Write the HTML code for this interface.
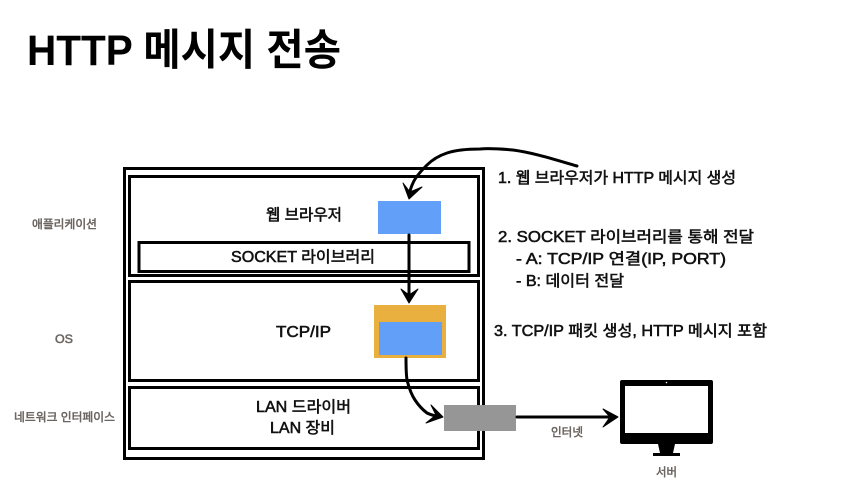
<!DOCTYPE html>
<html lang="ko"><head><meta charset="utf-8"><style>
html,body{margin:0;padding:0;background:#fff}
svg{display:block}
text{font-family:"Liberation Sans","Noto Sans CJK KR",sans-serif;fill:#111}
.m{font-size:15.500px;font-weight:400;stroke:#111;stroke-width:.55px}
.g{font-size:11.500px;fill:#6b6560;font-weight:400;stroke:#6b6560;stroke-width:.5px}
.b{fill:none;stroke:#000;stroke-width:3}
.a{fill:none;stroke:#000;stroke-width:3;stroke-linecap:round;stroke-linejoin:round}
.h{fill:#000;stroke:#000;stroke-width:1;stroke-linejoin:round}
</style></head><body>
<svg width="861" height="497" viewBox="0 0 861 497" xmlns="http://www.w3.org/2000/svg">
<rect width="861" height="497" fill="#fff"/>
<text x="27" y="65" style="font-size:43px;font-weight:700;fill:#000" textLength="314" lengthAdjust="spacingAndGlyphs">HTTP 메시지 전송</text>

<rect class="b" x="124.500" y="168.500" width="359" height="290"/>
<rect class="b" x="129.500" y="176.500" width="349" height="99"/>
<rect class="b" x="139" y="242.500" width="330" height="29"/>
<rect class="b" x="129.500" y="281.500" width="349" height="99"/>
<rect class="b" x="129.500" y="387.500" width="349" height="61"/>

<text class="g" x="32" y="228" textLength="65" lengthAdjust="spacingAndGlyphs">애플리케이션</text>
<text class="g" x="55" y="343" textLength="18" lengthAdjust="spacingAndGlyphs">OS</text>
<text class="g" x="14" y="421" textLength="101" lengthAdjust="spacingAndGlyphs">네트워크 인터페이스</text>

<text class="m" x="266" y="220" textLength="76" lengthAdjust="spacingAndGlyphs">웹 브라우저</text>
<text class="m" x="231" y="262" textLength="144" lengthAdjust="spacingAndGlyphs">SOCKET 라이브러리</text>
<text class="m" x="276" y="337" textLength="55" lengthAdjust="spacingAndGlyphs">TCP/IP</text>
<text class="m" x="256" y="412" textLength="95" lengthAdjust="spacingAndGlyphs">LAN 드라이버</text>
<text class="m" x="270" y="433" textLength="65" lengthAdjust="spacingAndGlyphs">LAN 장비</text>

<rect x="378" y="201" width="63" height="33" fill="#619ff8"/>
<rect x="374" y="305" width="72" height="53" fill="#e9b03f"/>
<rect x="379" y="322" width="63" height="33" fill="#619ff8"/>
<rect x="444" y="405" width="72" height="26" fill="#969696"/>

<path class="a" d="M577 166C556 160 535 153 513 150C501 149 490 148 480 149C467 149 456 150 447 153C438 156 432 160 427 165C420 172 415 178 413 183C411 187 410 190 409 196"/>
<path class="h" d="M403 183L409 199L422 187L410 192Z"/>
<path class="a" d="M409 235L409 298"/>
<path class="h" d="M401 289L409 303L418 289L409 295Z"/>
<path class="a" d="M406 358C406 366 406 373 407 380C409 388 411 394 415 400C419 406 423 410 427 413C431 415 435 416 440 417"/>
<path class="h" d="M431 405L443 417L426 423L436 415Z"/>
<path class="a" d="M517 417L614 417"/>
<path class="h" d="M603 409L618 417L603 427L610 417Z"/>

<rect x="620" y="380" width="93" height="64" rx="2" fill="#000"/>
<rect x="625" y="386" width="83" height="47" fill="#fff"/>
<circle cx="666.500" cy="382.500" r=".8" fill="#fff"/>
<path d="M658 444H675L673 453H660Z" fill="#000"/>
<rect x="653" y="453" width="27" height="3" fill="#000"/>

<text class="g" x="551" y="436" textLength="32" lengthAdjust="spacingAndGlyphs">인터넷</text>
<text class="g" x="656" y="476" textLength="21" lengthAdjust="spacingAndGlyphs">서버</text>

<text class="m" x="498" y="183" textLength="238" lengthAdjust="spacingAndGlyphs">1. 웹 브라우저가 HTTP 메시지 생성</text>
<text class="m" x="498" y="242" textLength="256" lengthAdjust="spacingAndGlyphs">2. SOCKET 라이브러리를 통해 전달</text>
<text class="m" x="516" y="264" textLength="210" lengthAdjust="spacingAndGlyphs">- A: TCP/IP 연결(IP, PORT)</text>
<text class="m" x="516" y="286" textLength="108" lengthAdjust="spacingAndGlyphs">- B: 데이터 전달</text>
<text class="m" x="494" y="336" textLength="273" lengthAdjust="spacingAndGlyphs">3. TCP/IP 패킷 생성, HTTP 메시지 포함</text>
</svg>
</body></html>
